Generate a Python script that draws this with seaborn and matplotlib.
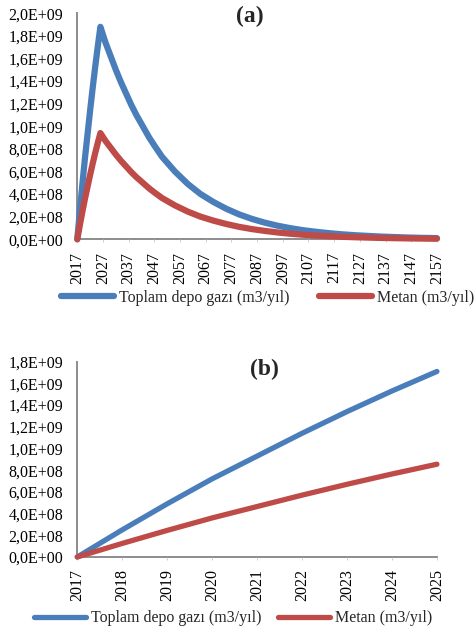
import matplotlib
matplotlib.use("Agg")
import matplotlib.pyplot as plt
import matplotlib.ticker as mticker
import pandas as pd
import seaborn as sns

# (a) long-term projection, values in 1E+09 m3/yil
years_a = [2017, 2018, 2019, 2020, 2021, 2022, 2023, 2024, 2025, 2026,
           2027, 2028, 2029, 2030, 2032, 2034, 2036, 2038, 2040, 2043,
           2045, 2047, 2050, 2055, 2060, 2065, 2070, 2075,
           2080, 2085, 2090, 2095, 2100, 2105, 2110, 2115, 2120, 2125,
           2130, 2135, 2140, 2145, 2150, 2155, 2157]
toplam_a = [0.0, 0.25, 0.49, 0.72, 0.93, 1.14, 1.34, 1.53, 1.71, 1.88,
            1.81, 1.74, 1.68, 1.62, 1.50, 1.39, 1.29, 1.19, 1.10, 0.98,
            0.90, 0.83, 0.73, 0.60, 0.49, 0.40, 0.33, 0.27,
            0.22, 0.18, 0.147, 0.12, 0.098, 0.080, 0.066, 0.054, 0.044, 0.036,
            0.030, 0.024, 0.020, 0.016, 0.013, 0.011, 0.010]
metan_a = [0.0, 0.125, 0.245, 0.36, 0.465, 0.57, 0.67, 0.765, 0.855, 0.94,
           0.905, 0.87, 0.84, 0.81, 0.75, 0.695, 0.645, 0.595, 0.55, 0.49,
           0.45, 0.415, 0.365, 0.30, 0.245, 0.20, 0.165, 0.135,
           0.11, 0.09, 0.074, 0.06, 0.049, 0.04, 0.033, 0.027, 0.022, 0.018,
           0.015, 0.012, 0.010, 0.008, 0.0065, 0.0055, 0.005]

# (b) operating period
years_b = [2017, 2018, 2019, 2020, 2021, 2022, 2023, 2024, 2025]
toplam_b = [0.0, 0.25, 0.49, 0.72, 0.93, 1.14, 1.34, 1.53, 1.71]
metan_b = [0.0, 0.125, 0.245, 0.36, 0.465, 0.57, 0.67, 0.765, 0.855]

labels = ["Toplam depo gazı (m3/yıl)", "Metan (m3/yıl)"]
colors = ["#4A7EBB", "#BE4B48"]


def long_df(years, s1, s2):
    d1 = pd.DataFrame({"Yıl": years, "Değer": [v * 1e9 for v in s1], "Seri": labels[0]})
    d2 = pd.DataFrame({"Yıl": years, "Değer": [v * 1e9 for v in s2], "Seri": labels[1]})
    return pd.concat([d1, d2], ignore_index=True)


sns.set_theme(style="white")
plt.rcParams["font.family"] = ["Liberation Serif", "DejaVu Serif"]
fs = 11.5

fig = plt.figure(figsize=(4.77, 6.32), dpi=100)
ax1 = fig.add_axes([0.162, 0.6214, 0.754, 0.3576])
ax2 = fig.add_axes([0.162, 0.1187, 0.754, 0.309])

sci = mticker.FuncFormatter(lambda v, p: f"{v:.1E}".replace(".", ","))

for ax, df, xt, ymax, lw in [
    (ax1, long_df(years_a, toplam_a, metan_a), list(range(2017, 2158, 10)), 2.0e9, 4.5),
    (ax2, long_df(years_b, toplam_b, metan_b), years_b, 1.8e9, 3.8),
]:
    sns.lineplot(data=df, x="Yıl", y="Değer", hue="Seri", hue_order=labels,
                 palette=colors, linewidth=lw, ax=ax, legend=False,
                 solid_capstyle="round", solid_joinstyle="round", clip_on=False)
    ax.set_xlim(xt[0], xt[-1])
    ax.set_ylim(0, ymax)
    ax.set_xticks(xt)
    ax.set_xticklabels([str(x) for x in xt], rotation=90)
    ax.yaxis.set_major_locator(mticker.MultipleLocator(2e8))
    ax.yaxis.set_major_formatter(sci)
    ax.set_xlabel("")
    ax.set_ylabel("")
    for s in ["top", "right"]:
        ax.spines[s].set_visible(False)
    for s in ["left", "bottom"]:
        ax.spines[s].set_color("#8c8c8c")
        ax.spines[s].set_linewidth(1.4)
        ax.spines[s].set_zorder(0)
    ax.tick_params(axis="y", length=0, pad=10, labelsize=fs, colors="black")
    ax.tick_params(axis="x", length=2, width=0.6, color="#c8c8c8", pad=7,
                   labelsize=fs, labelcolor="black", bottom=True)
    ax.set_facecolor("white")

ax1.text(0.48, 0.985, "(a)", transform=ax1.transAxes, ha="center", va="center",
         fontsize=17, fontweight="bold")
ax2.text(0.52, 0.96, "(b)", transform=ax2.transAxes, ha="center", va="center",
         fontsize=17, fontweight="bold")

fig.legend(handles=ax1.lines[:2], labels=labels, loc="center",
           bbox_to_anchor=(0.561, 0.5285), ncol=2, frameon=False, fontsize=fs,
           handlelength=3.3, handletextpad=0.3, columnspacing=1.9)
fig.legend(handles=ax2.lines[:2], labels=labels, loc="center",
           bbox_to_anchor=(0.4885, 0.022), ncol=2, frameon=False, fontsize=fs,
           handlelength=3.3, handletextpad=0.3, columnspacing=1.0)

fig.savefig("out.png", dpi=100, facecolor="white")
